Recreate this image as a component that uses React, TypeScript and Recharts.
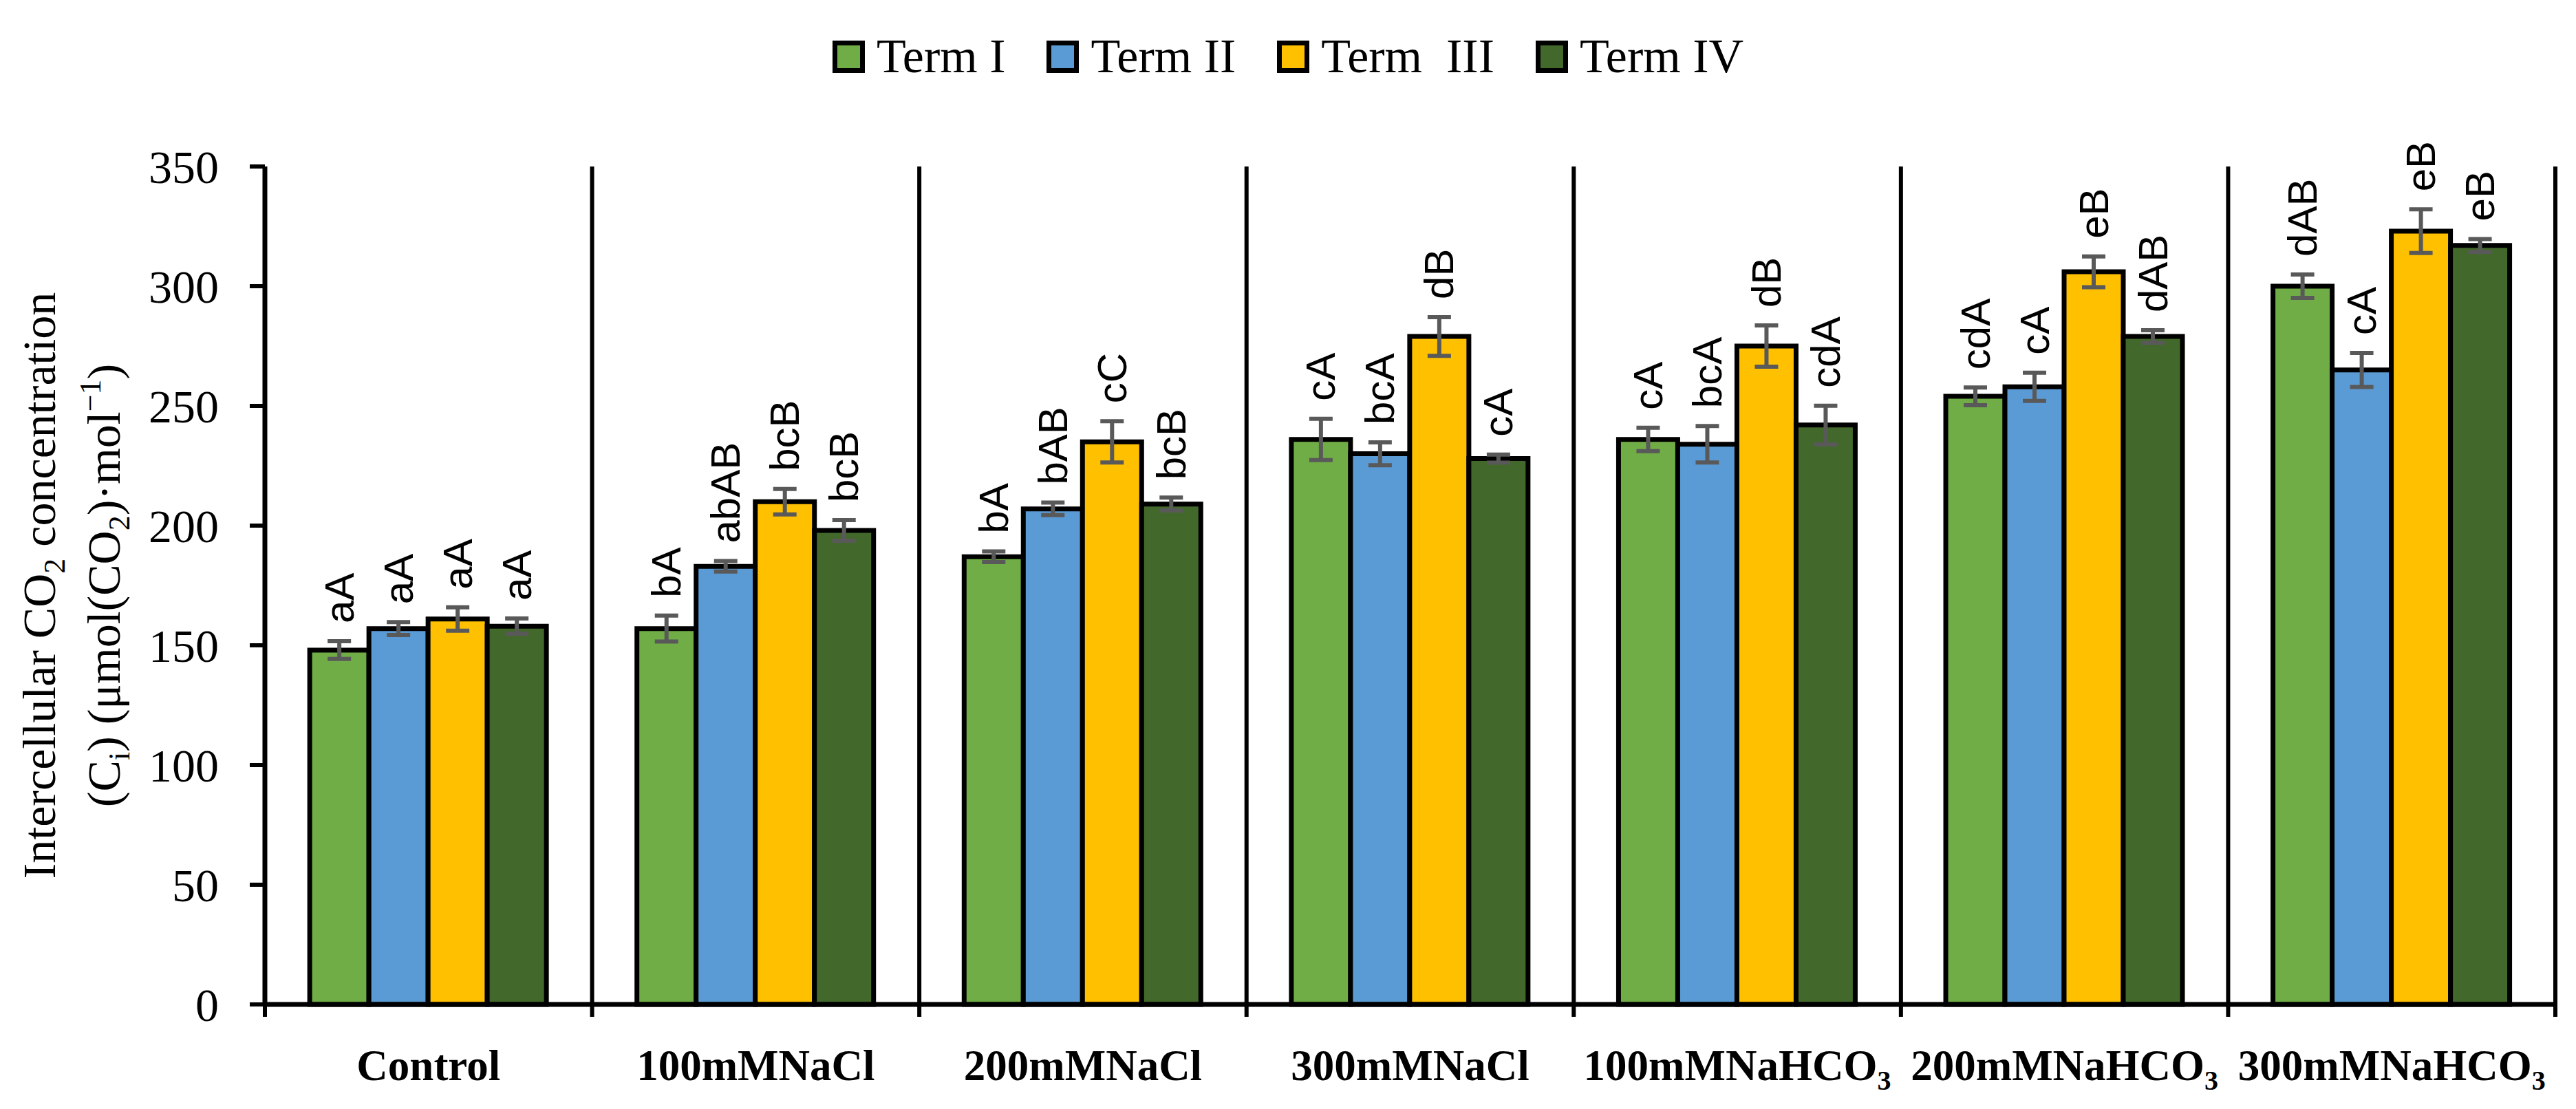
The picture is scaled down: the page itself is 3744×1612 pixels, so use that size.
import React from "react";
import {
  BarChart,
  Bar,
  XAxis,
  YAxis,
  ErrorBar,
  LabelList,
  Legend,
  ReferenceLine,
} from "recharts";

const categories = [
  "Control",
  "100mMNaCl",
  "200mMNaCl",
  "300mMNaCl",
  "100mMNaHCO3",
  "200mMNaHCO3",
  "300mMNaHCO3",
];

const seriesNames = ["Term I", "Term II", "Term  III", "Term IV"];
const seriesColors = ["#70AD47", "#5B9BD5", "#FFC000", "#43682B"];

const term1 = [148, 157, 187, 236, 236, 254, 300];
const term2 = [157, 183, 207, 230, 234, 258, 265];
const term3 = [161, 210, 235, 279, 275, 306, 323];
const term4 = [158, 198, 209, 228, 242, 279, 317];

const err1 = [3.7, 5.4, 2.2, 8.6, 4.9, 3.7, 4.9];
const err2 = [2.7, 2.2, 2.6, 4.8, 7.6, 5.9, 7.1];
const err3 = [4.9, 5.3, 8.6, 8.1, 8.6, 6.4, 9.1];
const err4 = [3.2, 4.3, 2.7, 1.7, 8.1, 2.6, 2.7];

const letters1 = ["aA", "bA", "bA", "cA", "cA", "cdA", "dAB"];
const letters2 = ["aA", "abAB", "bAB", "bcA", "bcA", "cA", "cA"];
const letters3 = ["aA", "bcB", "cC", "dB", "dB", "eB", "eB"];
const letters4 = ["aA", "bcB", "bcB", "cA", "cdA", "dAB", "eB"];

const yTicks = [0, 50, 100, 150, 200, 250, 300, 350];

const values = [term1, term2, term3, term4];
const errors = [err1, err2, err3, err4];

const data = categories.map((name, i) => ({
  name,
  t1: term1[i],
  t2: term2[i],
  t3: term3[i],
  t4: term4[i],
  e1: err1[i],
  e2: err2[i],
  e3: err3[i],
  e4: err4[i],
  l1: letters1[i],
  l2: letters2[i],
  l3: letters3[i],
  l4: letters4[i],
}));

const SERIF = "'Liberation Serif', 'DejaVu Serif', serif";
const SANS = "'Liberation Sans', Arial, sans-serif";

// letter labels sit just above the error bar, rotated to read bottom-up
function letterContent(s: number) {
  return (props: any) => {
    const { x, y, width, height, value, index } = props;
    const v = values[s][index];
    const pxPerUnit = v ? height / v : 0;
    const cx = x + width / 2;
    const ty = y - errors[s][index] * pxPerUnit - 26;
    return (
      <text
        x={cx}
        y={ty}
        transform={`rotate(-90, ${cx}, ${ty})`}
        textAnchor="start"
        dominantBaseline="central"
        fontFamily={SANS}
        fontSize={60}
        fill="#000"
      >
        {value}
      </text>
    );
  };
}

function CategoryTick(props: any) {
  const { x, y, payload } = props;
  const label: string = payload.value;
  const sub = label.endsWith("CO3");
  return (
    <text
      x={x}
      y={y + 110}
      textAnchor="middle"
      fontFamily={SERIF}
      fontWeight="bold"
      fontSize={63}
      fill="#000"
    >
      {sub ? label.slice(0, -1) : label}
      {sub && (
        <tspan fontSize={40} dy={14}>
          3
        </tspan>
      )}
    </text>
  );
}

function YTitle(props: any) {
  const { viewBox } = props;
  const cy = viewBox.y + viewBox.height / 2;
  const x1 = 80;
  const x2 = 174;
  return (
    <g fontFamily={SERIF} fontSize={68} fill="#000">
      <text x={x1} y={cy} textAnchor="middle" transform={`rotate(-90, ${x1}, ${cy})`}>
        Intercellular CO
        <tspan fontSize={44} dy={14}>2</tspan>
        <tspan dy={-14}> concentration</tspan>
      </text>
      <text x={x2} y={cy} textAnchor="middle" transform={`rotate(-90, ${x2}, ${cy})`}>
        (C
        <tspan fontSize={44} dy={14}>i</tspan>
        <tspan dy={-14}>) (μmol(CO</tspan>
        <tspan fontSize={44} dy={14}>2</tspan>
        <tspan dy={-14}>)·mol</tspan>
        <tspan fontSize={44} dy={-28}>−1</tspan>
        <tspan dy={28}>)</tspan>
      </text>
    </g>
  );
}

function LegendContent() {
  return (
    <div
      style={{
        display: "flex",
        justifyContent: "center",
        alignItems: "center",
        width: 3744,
        fontFamily: SERIF,
        fontSize: 70,
        color: "#000",
      }}
    >
      {seriesNames.map((n, i) => (
        <div
          key={n}
          style={{
            display: "flex",
            alignItems: "center",
            marginRight: i < seriesNames.length - 1 ? 60 : 0,
          }}
        >
          <span
            style={{
              display: "inline-block",
              width: 33,
              height: 33,
              border: "7px solid #000",
              background: seriesColors[i],
              marginRight: 17,
            }}
          />
          <span style={{ whiteSpace: "pre" }}>{n}</span>
        </div>
      ))}
    </div>
  );
}

// group separators: left edge of every category band, plus the right edge of the last one
const separators = categories
  .map((c) => ({ x: c, position: "start" as const }))
  .concat([{ x: categories[categories.length - 1], position: "end" as const }]);

export default function App() {
  return (
    <div
      style={{
        position: "absolute",
        left: 0,
        top: 0,
        width: 3744,
        height: 1612,
        background: "#fff",
      }}
    >
      <BarChart
        width={3744}
        height={1612}
        data={data}
        margin={{ top: 242, right: 30, bottom: 0, left: 235 }}
        barCategoryGap="13.7%"
        barGap={0}
      >
        <Legend
          verticalAlign="middle"
          align="center"
          content={<LegendContent />}
          wrapperStyle={{ top: 42, left: 0, width: 3744 }}
        />
        <XAxis
          dataKey="name"
          height={152}
          tickLine={false}
          tickSize={0}
          tickMargin={0}
          axisLine={{ stroke: "#000", strokeWidth: 7 }}
          tick={<CategoryTick />}
          interval={0}
        />
        <YAxis
          width={150}
          domain={[0, 350]}
          ticks={yTicks}
          interval={0}
          tickSize={22}
          tickMargin={45}
          axisLine={{ stroke: "#000", strokeWidth: 7 }}
          tickLine={{ stroke: "#000", strokeWidth: 6 }}
          tick={{ fontFamily: SERIF, fontSize: 68, fill: "#000" }}
          label={<YTitle />}
        />
        {separators.map((s, i) => (
          <ReferenceLine
            key={i}
            segment={[
              { x: s.x, y: -5.2 },
              { x: s.x, y: 350 },
            ]}
            position={s.position}
            ifOverflow="visible"
            stroke="#000"
            strokeWidth={6}
          />
        ))}
        {[0, 1, 2, 3].map((s) => (
          <Bar
            key={s}
            dataKey={`t${s + 1}`}
            name={seriesNames[s]}
            fill={seriesColors[s]}
            stroke="#000"
            strokeWidth={7}
            isAnimationActive={false}
          >
            <ErrorBar
              dataKey={`e${s + 1}`}
              direction="y"
              width={17}
              stroke="#595959"
              strokeWidth={6}
            />
            <LabelList dataKey={`l${s + 1}`} content={letterContent(s)} />
          </Bar>
        ))}
      </BarChart>
    </div>
  );
}
